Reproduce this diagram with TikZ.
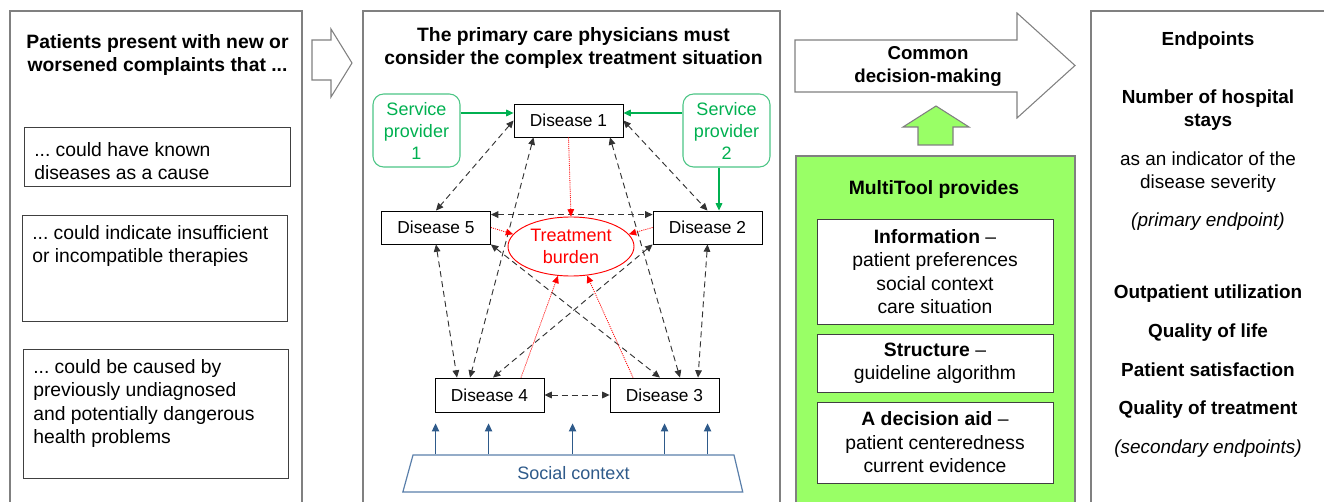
\documentclass[tikz,border=0pt]{standalone}
\usepackage{fontspec}
\setmainfont{Liberation Sans}
\frenchspacing
\usetikzlibrary{arrows.meta,calc,shapes.geometric}
\definecolor{panelgray}{HTML}{808080}
\definecolor{boxline}{HTML}{404040}
\definecolor{spgreen}{HTML}{00B050}
\definecolor{spborder}{HTML}{4CC585}
\definecolor{toolgreen}{HTML}{99FF66}
\definecolor{socblue}{HTML}{2E5A8A}
\definecolor{socline}{HTML}{5A7FAA}
\definecolor{burdenred}{HTML}{FF0000}
\begin{document}
\begin{tikzpicture}[x=0.75pt,y=-0.75pt,
  big/.style={font=\fontsize{14.5}{17.6}\selectfont},
  bigb/.style={font=\fontsize{14.5}{17.4}\selectfont\bfseries},
  panel/.style={draw=panelgray,line width=0.9pt},
  leftbox/.style={draw=boxline,line width=0.7pt,anchor=north west,inner sep=0pt},
  bodytext/.style={big,anchor=north west,align=left,inner sep=0pt},
  disease/.style={draw=black,line width=0.65pt,fill=white,minimum width=81.75pt,
    minimum height=24.75pt,inner sep=0pt,font=\fontsize{13}{15}\selectfont},
  provider/.style={draw=spborder,line width=0.8pt,rounded corners=8pt,
    minimum width=65.25pt,minimum height=54.75pt,inner sep=0pt,align=center,
    text=spgreen,font=\fontsize{13.5}{16.5}\selectfont},
  burden/.style={ellipse,draw=burdenred,line width=0.7pt,fill=white,
    minimum width=94.5pt,minimum height=44.25pt,inner sep=0pt,align=center,
    text=burdenred,font=\fontsize{13.5}{17}\selectfont},
  link/.style={draw=black!80,line width=0.7pt,dash pattern=on 4.5pt off 3pt,
    {Triangle[length=5.5pt,width=5pt]}-{Triangle[length=5.5pt,width=5pt]}},
  load/.style={draw=burdenred,line width=0.6pt,dash pattern=on 0.8pt off 0.8pt,
    -{Triangle[length=5.5pt,width=5pt]}},
  supply/.style={draw=spgreen,line width=0.8pt,-{Triangle[length=5.5pt,width=5pt]}},
  socarrow/.style={draw=socblue,line width=0.9pt,-{Triangle[length=6pt,width=5.5pt]}},
  blockarrow/.style={draw=panelgray,line width=0.8pt,fill=white,line join=miter},
  toolbox/.style={draw=boxline,line width=0.7pt,fill=white,minimum width=177pt,
    inner sep=0pt,align=center,font=\fontsize{14.5}{17.6}\selectfont},
  endtext/.style={font=\fontsize{14.2}{17.4}\selectfont,align=center,inner sep=0pt},
  endbold/.style={endtext,font=\fontsize{14.2}{17.4}\selectfont\bfseries},
  enditalic/.style={endtext,font=\fontsize{14.2}{17.4}\selectfont\itshape},
]
\useasboundingbox (0,0) rectangle (1324,502);

% ---- panels ----
\draw[panel] (10,506) -- (10,11) -- (302,11) -- (302,506);
\draw[panel] (363,506) -- (363,11) -- (780,11) -- (780,506);
\draw[panel] (1091,506) -- (1091,11) -- (1328,11);
\filldraw[fill=toolgreen,draw=panelgray,line width=0.9pt] (796,156) rectangle (1075,510);

% ---- left panel: presenting complaints ----
\node[bigb,align=center,inner sep=0pt] (ltitle) at (157.5,55) {Patients present with new or\\worsened complaints that ...};
\node[leftbox,minimum width=199.5pt,minimum height=44.25pt] (ba) at (24,127) {};
\node[bodytext] (ta) at ($(ba.north west)+(10,15)$) {... could have known\\diseases as a cause};
\node[leftbox,minimum width=198.75pt,minimum height=79.5pt] (bb) at (22,215) {};
\node[bodytext] (tbb) at ($(bb.north west)+(10,10)$) {... could indicate insufficient\\or incompatible therapies};
\node[leftbox,minimum width=198.75pt,minimum height=96.75pt] (bc) at (23,349) {};
\node[bodytext] (tc) at ($(bc.north west)+(10,10)$) {... could be caused by\\previously undiagnosed\\and potentially dangerous\\health problems};

% ---- arrow to the middle panel ----
\draw[blockarrow] (312,40) -- (331,40) -- (331,29) -- (352,63) -- (331,97) -- (331,80) -- (312,80) -- cycle;

% ---- middle panel: treatment situation ----
\node[bigb,align=center,inner sep=0pt] (mtitle) at (573.5,48) {The primary care physicians must\\consider the complex treatment situation};

\node[disease] (d1) at (568.5,120.5) {Disease 1};
\node[disease] (d5) at (436,227.5) {Disease 5};
\node[disease] (d2) at (707.5,227.5) {Disease 2};
\node[disease,minimum height=25.5pt] (d4) at (489.5,395) {Disease 4};
\node[disease,minimum height=25.5pt] (d3) at (664.5,395) {Disease 3};
\node[provider] (sp1) at (416.5,130.5) {Service\\provider\\1};
\node[provider] (sp2) at (726.5,130.5) {Service\\provider\\2};
\node[burden] (tb) at (571,246.5) {Treatment\\burden};

% interactions between diseases
\draw[link] (d1.west) -- (d5.north);
\draw[link] (d1.east) -- (d2.north);
\draw[link] ($(d1.south)+(-35,0)$) -- ($(d4.north)+(-19.5,0)$);
\draw[link] ($(d1.south)+(41.5,0)$) -- ($(d3.north)+(15.5,0)$);
\draw[link] ($(d5.north east)+(0,4)$) -- ($(d2.north west)+(0,4)$);
\draw[link] (d5.south) -- ($(d4.north)+(-32.5,0)$);
\draw[link] (d5.south east) -- ($(d3.north)+(-4.5,0)$);
\draw[link] (d2.south west) -- ($(d4.north)+(3.5,0)$);
\draw[link] (d2.south) -- ($(d3.north)+(33.5,0)$);
\draw[link] (d4.east) -- (d3.west);

% contributions to the treatment burden
\draw[load] (d1.south) -- (tb.north);
\draw[load] (d5.east) -- (tb.168);
\draw[load] (d2.west) -- (tb.12);
\draw[load] ($(d4.north)+(31.5,0)$) -- (tb.246);
\draw[load] ($(d3.north)+(-31.5,0)$) -- (tb.299);

% service providers
\draw[supply] ($(sp1.east)+(0,-17.5)$) -- ($(d1.west)+(0,-7.5)$);
\draw[supply] ($(sp2.west)+(0,-17.5)$) -- ($(d1.east)+(0,-7.5)$);
\draw[supply] ($(sp2.south)+(-7.5,0)$) -- ($(d2.north)+(11.5,0)$);

% social context
\node[trapezium,draw=socline,line width=0.9pt,trapezium left angle=75,trapezium right angle=77,
  trapezium stretches=true,minimum width=255.75pt,minimum height=27.75pt,inner sep=0pt,
  text=socblue,font=\fontsize{13.5}{16}\selectfont] (soc) at (573.5,473.5) {Social context};
\foreach \dx in {23,76,160,252,295}
  \draw[socarrow] ($(soc.top left corner)+(\dx,0)$) -- ++(0,-31);

% ---- decision making ----
\draw[blockarrow] (795,40) -- (1017,40) -- (1017,13) -- (1075,65.5) -- (1017,118) -- (1017,92) -- (795,92) -- cycle;
\node[font=\fontsize{14}{17.3}\selectfont\bfseries,align=center,inner sep=0pt] (cdm) at (928,66.5) {Common\\decision-making};
\draw[draw=panelgray,line width=0.8pt,fill=toolgreen,line join=miter] (918,145) -- (918,127) -- (903,127) -- (936,106) -- (969,127) -- (953,127) -- (953,145) -- cycle;

\node[bigb,inner sep=0pt] (mtp) at (934,190) {MultiTool provides};
\node[toolbox,minimum height=78.75pt] (info) at (935,271.5) {\textbf{Information} –\\patient preferences\\social context\\care situation};
\node[toolbox,minimum height=43.5pt] (struct) at (935,363) {\textbf{Structure} –\\guideline algorithm};
\node[toolbox,minimum height=60.75pt] (aid) at (935,442.5) {\textbf{A decision aid} –\\patient centeredness\\current evidence};

% ---- endpoints ----
\node[endbold] (ep) at (1208,41) {Endpoints};
\node[endbold] (hosp) at (1208,110.5) {Number of hospital\\stays};
\node[endtext] (sev) at (1208,172) {as an indicator of the\\disease severity};
\node[enditalic] (prim) at (1208,222) {(primary endpoint)};
\node[endbold] (outp) at (1208,294) {Outpatient utilization};
\node[endbold] (qol) at (1208,333) {Quality of life};
\node[endbold] (sat) at (1208,370) {Patient satisfaction};
\node[endbold] (qot) at (1208,410) {Quality of treatment};
\node[enditalic] (sec) at (1208,449) {(secondary endpoints)};
\end{tikzpicture}
\end{document}
